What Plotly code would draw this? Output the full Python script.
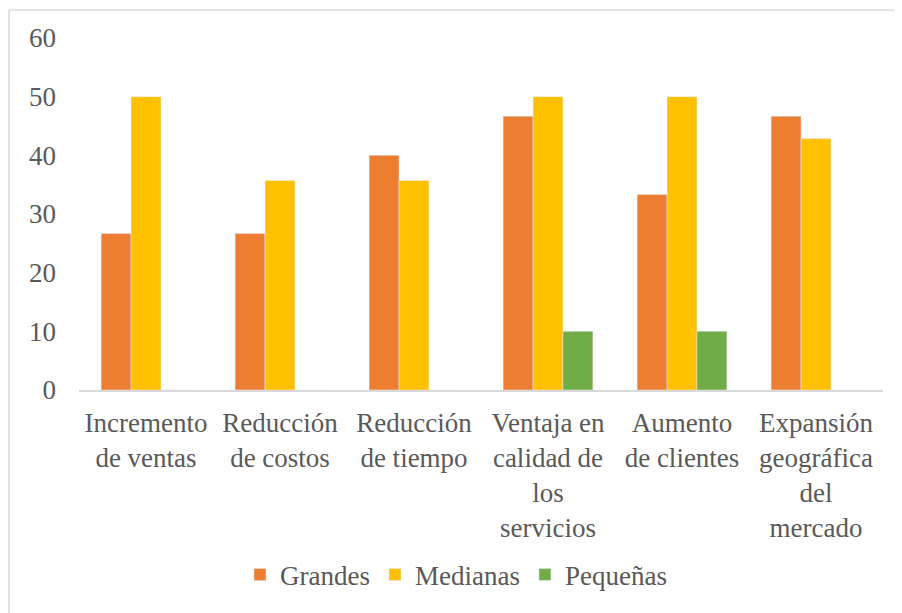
import plotly.graph_objects as go

categories = ["Incremento<br>de ventas", "Reducción<br>de costos", "Reducción<br>de tiempo",
              "Ventaja en<br>calidad de<br>los<br>servicios", "Aumento<br>de clientes",
              "Expansión<br>geográfica<br>del<br>mercado"]
grandes = [26.67, 26.67, 40.0, 46.67, 33.33, 46.67]
medianas = [50.0, 35.71, 35.71, 50.0, 50.0, 42.86]
pequenas = [0, 0, 0, 10.0, 10.0, 0]
y_ticks = [0, 10, 20, 30, 40, 50, 60]

W, H = 902, 613
OFF = 8  # page body margin
L, T = 79 - OFF, 38 - OFF
plot_right, plot_bottom = 883 - OFF, 390 - OFF
R, B = W - plot_right, H - plot_bottom
pw, ph = W - L - R, H - T - B

font = dict(family="Liberation Serif, Times New Roman, serif", size=27, color="#595959")

fig = go.Figure()
fig.add_trace(go.Bar(name="Grandes", x=categories, y=grandes, marker_color="#ED7D31"))
fig.add_trace(go.Bar(name="Medianas", x=categories, y=medianas, marker_color="#FFC000"))
fig.add_trace(go.Bar(name="Pequeñas", x=categories, y=pequenas, marker_color="#70AD47"))

fig.update_layout(
    width=W, height=H,
    margin=dict(l=L, r=R, t=T, b=B, autoexpand=False),
    paper_bgcolor="white", plot_bgcolor="white",
    font=font,
    barmode="group", bargap=0.33, bargroupgap=0,
    showlegend=True,
    legend=dict(orientation="h", x=(456 - OFF - L) / pw, xanchor="center",
                y=(plot_bottom - (575 - OFF)) / ph, yanchor="middle", font=font,
                itemwidth=30, tracegroupgap=0),
    xaxis=dict(showline=True, linecolor="#D9D9D9", linewidth=1.5, ticks="",
               tickfont=font, showgrid=False, ticklabelstandoff=8),
    yaxis=dict(range=[0, 60], tickvals=y_ticks, showgrid=False, zeroline=False,
               showline=False, tickfont=font, ticklabelstandoff=22),
)

# chart border (top and left visible)
bx = (9 - OFF - L) / pw
by = 1 + (T - (10 - OFF)) / ph
fig.add_shape(type="line", xref="paper", yref="paper", x0=bx, x1=1 + (R + 5) / pw,
              y0=by, y1=by, line=dict(color="#D9D9D9", width=1.5))
fig.add_shape(type="line", xref="paper", yref="paper", x0=bx, x1=bx,
              y0=by, y1=-(B + 5) / ph, line=dict(color="#D9D9D9", width=1.5))

fig.write_html("out.html")
